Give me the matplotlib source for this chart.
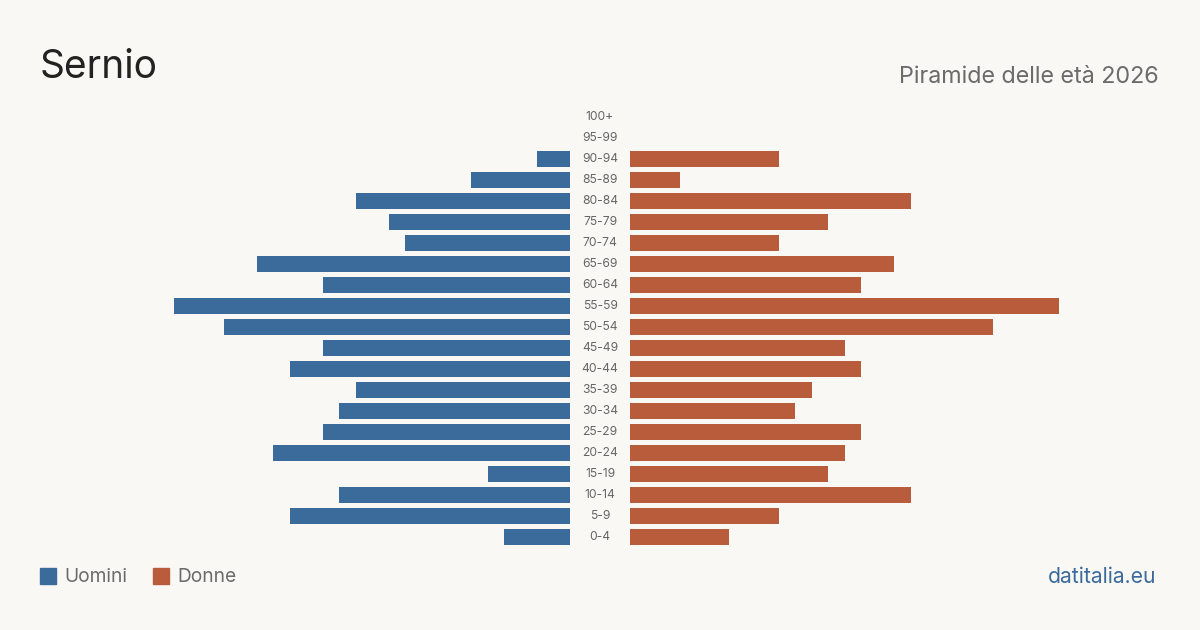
import matplotlib
matplotlib.use('Agg')
from matplotlib import pyplot as plt
from matplotlib.patches import Rectangle

plt.rcParams['font.family'] = ['Inter', 'DejaVu Sans']

ages = ['0-4', '5-9', '10-14', '15-19', '20-24', '25-29', '30-34', '35-39',
        '40-44', '45-49', '50-54', '55-59', '60-64', '65-69', '70-74',
        '75-79', '80-84', '85-89', '90-94', '95-99', '100+']
uomini = [4, 17, 14, 5, 18, 15, 14, 13, 17, 15, 21, 24, 15, 19, 10, 11, 13, 6, 2, 0, 0]
donne = [6, 9, 17, 12, 13, 14, 10, 11, 14, 13, 22, 26, 14, 16, 9, 12, 17, 3, 9, 0, 0]

BG = '#f9f8f4'
BLUE = '#3b6b9b'
RED = '#b95c3b'
W, H = 1200, 630
xmax = 26
px = 16.5  # pixels per unit

fig = plt.figure(figsize=(12, 6.3), dpi=100, facecolor=BG)

bottom = (H - 547.5) / H
height = 441 / H
axl = fig.add_axes([(570 - xmax * px) / W, bottom, xmax * px / W, height])
axr = fig.add_axes([630 / W, bottom, xmax * px / W, height])

y = range(len(ages))
axl.barh(y, uomini, height=0.8, color=BLUE)
axr.barh(y, donne, height=0.8, color=RED)
axl.set_xlim(xmax, 0)
axr.set_xlim(0, xmax)
for ax in (axl, axr):
    ax.set_ylim(-0.5, len(ages) - 0.5)
    ax.set_facecolor('none')
    ax.axis('off')

for i, a in enumerate(ages):
    fig.text(600 / W, 1 - (537 - 21 * i) / H, a, ha='center', va='center',
             fontsize=8.7, color='#666666')

fig.text(40 / W, 1 - 67 / H, 'Sernio', fontsize=28, color='#222222',
         ha='left', va='center')
fig.text(1159 / W, 1 - 77 / H, 'Piramide delle età 2026', fontsize=16.8,
         color='#6b6b6b', ha='right', va='center')

fig.patches.append(Rectangle((40 / W, 1 - 584 / H), 16 / W, 16 / H,
                             transform=fig.transFigure, color=BLUE))
fig.text(64 / W, 1 - 577 / H, 'Uomini', fontsize=13.8, color='#6b6b6b',
         ha='left', va='center')
fig.patches.append(Rectangle((153 / W, 1 - 584 / H), 16 / W, 16 / H,
                             transform=fig.transFigure, color=RED))
fig.text(177 / W, 1 - 577 / H, 'Donne', fontsize=13.8, color='#6b6b6b',
         ha='left', va='center')
fig.text(1156 / W, 1 - 577 / H, 'datitalia.eu', fontsize=15.2, color=BLUE,
         ha='right', va='center')

fig.savefig('out.png', dpi=100, facecolor=BG)
